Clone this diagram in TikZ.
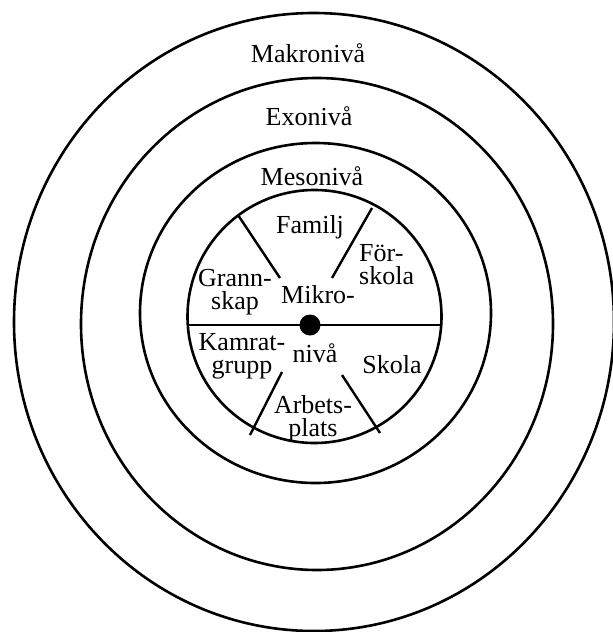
\documentclass[tikz,border=0pt]{standalone}
\usepackage{fontspec}
\setmainfont{Liberation Serif}
\newcommand\mystackc[2]{\vbox{\baselineskip=23pt\lineskiplimit=-60pt\lineskip=0pt\halign{\hfil##\hfil\cr#1\cr#2\cr}}}
\newcommand\mystackl[2]{\vbox{\baselineskip=23pt\lineskiplimit=-60pt\lineskip=0pt\halign{##\hfil\cr#1\cr#2\cr}}}
\begin{document}
\begin{tikzpicture}[x=1pt,y=-1pt,
  ring/.style={line width=2.6pt},
  spoke/.style={line width=2.4pt},
  lbl/.style={anchor=base, inner sep=0pt, font=\fontsize{26}{23}\selectfont}]
\useasboundingbox (0,0) rectangle (613,632);
\clip (0,0) rectangle (613,632);
% rings
\draw[ring] (314,322) ellipse [x radius=300, y radius=309];
\draw[ring] (317,324) ellipse [x radius=236, y radius=246];
\draw[ring] (315.5,313) ellipse [x radius=175.5, y radius=170];
\draw[ring] (314.5,316.5) ellipse [x radius=127, y radius=126.5];
% chord and centre
\coordinate (cl) at (188,325);
\coordinate (cr) at (441,325);
\draw[ring] (cl) -- (cr);
\fill (310,325) circle [radius=10.5];
% spokes
\coordinate (ul1) at (238,215); \coordinate (ul2) at (280,278);
\coordinate (ur1) at (372,208); \coordinate (ur2) at (332,278);
\coordinate (ll1) at (282,372); \coordinate (ll2) at (250,435);
\coordinate (lr1) at (342,375); \coordinate (lr2) at (380,433);
\draw[spoke] (ul1) -- (ul2);
\draw[spoke] (ur1) -- (ur2);
\draw[spoke] (ll1) -- (ll2);
\draw[spoke] (lr1) -- (lr2);
% labels
\node[lbl] (makro) at (308,62) {Makronivå};
\node[lbl] (exo) at (309,125) {Exonivå};
\node[lbl] (meso) at (312,185) {Mesonivå};
\node[lbl] (familj) at (310,233) {Familj};
\node[lbl, anchor=base west] (forskola) at (359,284.5) {\mystackl{För-}{skola}};
\node[lbl] (grannskap) at (235,309) {\mystackc{Grann-}{skap}};
\node[lbl] (mikro1) at (318,303) {Mikro-};
\node[lbl] (mikro2) at (315,362) {nivå};
\node[lbl] (kamratgrupp) at (242,373.5) {\mystackc{Kamrat-}{grupp}};
\node[lbl] (skola) at (392,373) {Skola};
\node[lbl] (arbetsplats) at (313,436.5) {\mystackc{Arbets-}{plats}};
\end{tikzpicture}
\end{document}
